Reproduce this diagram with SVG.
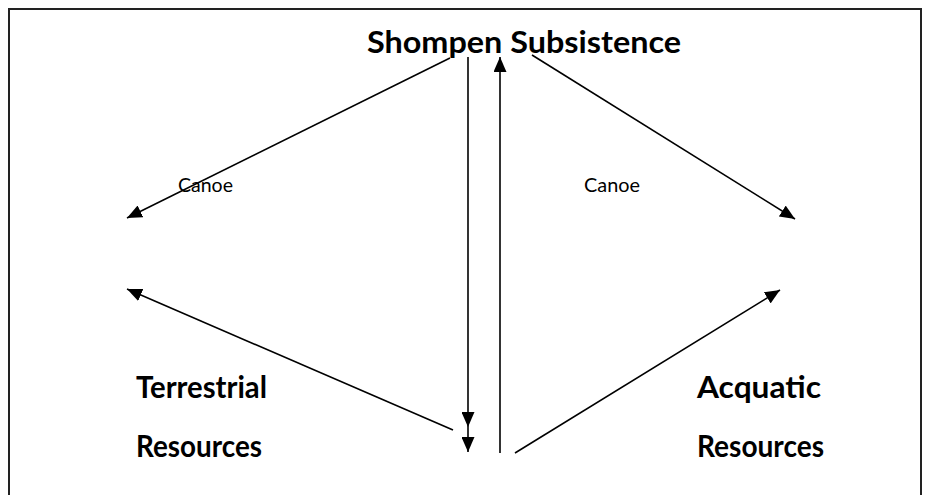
<svg xmlns="http://www.w3.org/2000/svg" width="930" height="495" viewBox="0 0 930 495">
<style>
.t{font-family:"Lato","Liberation Sans",sans-serif;font-weight:bold;font-size:30px;fill:#000}
.c{font-family:"Lato","Liberation Sans",sans-serif;font-size:20px;fill:#000}
.e{stroke:#000;stroke-width:1.6;fill:none}
</style>
<defs>
<marker id="ah" viewBox="0 0 15 13" refX="15" refY="6.5" markerWidth="15" markerHeight="13" markerUnits="userSpaceOnUse" orient="auto">
<path d="M0,0 L15,6.5 L0,13 Z" fill="#000"/>
</marker>
</defs>
<rect x="9" y="9" width="912" height="500" fill="#fff" stroke="#222" stroke-width="2"/>
<g id="n-shompen"><text class="t" x="367" y="53" textLength="314" lengthAdjust="spacingAndGlyphs">Shompen Subsistence</text></g>
<g id="n-terrestrial"><text class="t" x="136" y="398" textLength="131" lengthAdjust="spacingAndGlyphs">Terrestrial</text><text class="t" x="136" y="457" textLength="126" lengthAdjust="spacingAndGlyphs">Resources</text></g>
<g id="n-aquatic"><text class="t" x="697" y="398" textLength="124" lengthAdjust="spacingAndGlyphs">Acquatic</text><text class="t" x="697" y="457" textLength="127" lengthAdjust="spacingAndGlyphs">Resources</text></g>
<g id="connectors">
<line class="e" x1="450" y1="58" x2="127" y2="218" marker-end="url(#ah)"/>
<line class="e" x1="468" y1="57" x2="468" y2="427" marker-end="url(#ah)"/>
<line class="e" x1="468" y1="427" x2="468" y2="452" marker-end="url(#ah)"/>
<line class="e" x1="500" y1="453" x2="500" y2="57" marker-end="url(#ah)"/>
<line class="e" x1="532" y1="55" x2="795" y2="219" marker-end="url(#ah)"/>
<line class="e" x1="453" y1="430" x2="127" y2="289" marker-end="url(#ah)"/>
<line class="e" x1="515" y1="453" x2="780" y2="290" marker-end="url(#ah)"/>
<text class="c" x="178" y="192" textLength="55" lengthAdjust="spacingAndGlyphs">Canoe</text>
<text class="c" x="584" y="192" textLength="56" lengthAdjust="spacingAndGlyphs">Canoe</text>
</g>
</svg>
